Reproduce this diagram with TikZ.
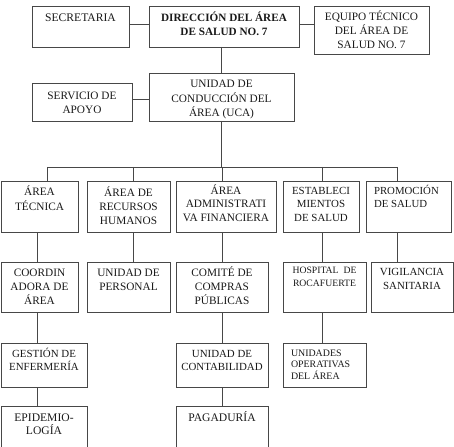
\documentclass[tikz,border=0pt]{standalone}
\usepackage{fontspec}
\setmainfont{Liberation Serif}
\usetikzlibrary{fit}
\tikzset{
  bx/.style={draw=black!72, line width=0.9pt, inner sep=0pt, outer sep=0pt, rectangle},
  tx/.style={inner sep=0pt, outer sep=0pt, align=center, anchor=base, text=black!90},
  txl/.style={inner sep=0pt, outer sep=0pt, align=left, anchor=base west, text=black!90},
  ln/.style={draw=black!72, line width=0.9pt},
  fs/.style={font=\fontsize{11.3}{#1}\selectfont},
  fs/.default=14
}
\begin{document}
\begin{tikzpicture}[x=1pt,y=-1pt]
\useasboundingbox (0,0) rectangle (454,446);
\clip (0,0) rectangle (454,446);
% boxes
\node[bx, fit={(32,6)(129,47)}] (sec) {};
\node[bx, fit={(149,6)(299,47)}] (dir) {};
\node[bx, fit={(314,6)(429,54)}] (eq) {};
\node[bx, fit={(32,83)(132,121)}] (serv) {};
\node[bx, fit={(149,73)(294,121)}] (uca) {};
\node[bx, fit={(1,181)(78,232)}] (tec) {};
\node[bx, fit={(87,181)(170,232)}] (rec) {};
\node[bx, fit={(176,181)(276,232)}] (adm) {};
\node[bx, fit={(283,181)(359,232)}] (est) {};
\node[bx, fit={(366,181)(451,232)}] (pro) {};
\node[bx, fit={(1,262)(78,312)}] (coo) {};
\node[bx, fit={(87,262)(170,312)}] (per) {};
\node[bx, fit={(176,262)(268,312)}] (com) {};
\node[bx, fit={(283,262)(366,312)}] (hos) {};
\node[bx, fit={(371,262)(453,312)}] (vig) {};
\node[bx, fit={(1,343)(87,387)}] (ges) {};
\node[bx, fit={(176,343)(268,387)}] (con) {};
\node[bx, fit={(283,343)(366,387)}] (uni) {};
\node[bx, fit={(1,406)(87,470)}] (epi) {};
\node[bx, fit={(176,406)(268,470)}] (pag) {};
% texts (anchor = baseline of last line)
\node[tx, font=\fontsize{11.6}{14}\selectfont] (sect) at (80.5,22) {SECRETARIA};
\node[tx, font=\fontsize{11.2}{14}\selectfont\bfseries] (dirt) at (224,36) {DIRECCIÓN DEL ÁREA\\DE SALUD NO. 7};
\node[tx, fs] (eqt) at (371.5,49) {EQUIPO TÉCNICO\\DEL ÁREA DE\\SALUD NO. 7};
\node[tx, fs] (servt) at (82,114) {SERVICIO DE\\APOYO};
\node[tx, fs=14.7] (ucat) at (221.5,117) {UNIDAD DE\\CONDUCCIÓN DEL\\ÁREA (UCA)};
\node[tx, fs] (tect) at (39.5,210) {ÁREA\\TÉCNICA};
\node[tx, fs] (rect) at (128.5,224) {ÁREA DE\\RECURSOS\\HUMANOS};
\node[tx, fs=13.5] (admt) at (226,221) {ÁREA\\ADMINISTRATI\\VA FINANCIERA};
\node[tx, font=\fontsize{10.9}{13.5}\selectfont] (estt) at (321,221) {ESTABLECI\\MIENTOS\\DE SALUD};
\node[txl, font=\fontsize{10.8}{12.5}\selectfont] (prot) at (374,207) {PROMOCIÓN\\DE SALUD};
\node[tx, fs] (coot) at (39.5,304) {COORDIN\\ADORA DE\\ÁREA};
\node[tx, fs] (pert) at (128.5,290) {UNIDAD DE\\PERSONAL};
\node[tx, fs] (comt) at (222,304) {COMITÉ DE\\COMPRAS\\PÚBLICAS};
\node[tx, font=\fontsize{9.7}{12.5}\selectfont] (host) at (324.5,286) {HOSPITAL\ \ DE\\ROCAFUERTE};
\node[tx, font=\fontsize{10.9}{13.5}\selectfont] (vigt) at (412,289) {VIGILANCIA\\SANITARIA};
\node[tx, font=\fontsize{10.9}{13}\selectfont] (gest) at (44,370) {GESTIÓN DE\\ENFERMERÍA};
\node[tx, font=\fontsize{10.9}{13}\selectfont] (cont) at (222,370) {UNIDAD DE\\CONTABILIDAD};
\node[txl, font=\fontsize{9.9}{11.5}\selectfont] (unit) at (291,379) {UNIDADES\\OPERATIVAS\\DEL ÁREA};
\node[tx, font=\fontsize{11.6}{13}\selectfont] (epit) at (44,434) {EPIDEMIO-\\LOGÍA};
\node[tx, font=\fontsize{11.6}{13}\selectfont] (pagt) at (222,421) {PAGADURÍA};
% coordinates
\coordinate (bus) at (0,167);
\coordinate (d1) at (47,167);
\coordinate (d2) at (133,167);
\coordinate (d3) at (222,167);
\coordinate (d4) at (322,167);
\coordinate (d5) at (397,167);
\coordinate (c1) at (37,0);
\coordinate (c2) at (133,0);
\coordinate (c3) at (222,0);
\coordinate (c4) at (322,0);
\coordinate (c5) at (397,0);
% connectors
\draw[ln] ([yshift=2.5pt]sec.east) -- ([yshift=2.5pt]sec.east -| dir.west);
\draw[ln] ([yshift=2.5pt]dir.east) -- ([yshift=2.5pt]dir.east -| eq.west);
\draw[ln] (uca.north |- dir.south) -- (uca.north);
\draw[ln] ([yshift=3pt]serv.east) -- ([yshift=3pt]serv.east -| uca.west);
\draw[ln] (uca.south) -- (uca.south |- bus);
\draw[ln] (d1) -- (d5);
\draw[ln] (d1) -- (d1 |- tec.north);
\draw[ln] (d2) -- (d2 |- rec.north);
\draw[ln] (d3) -- (d3 |- adm.north);
\draw[ln] (d4) -- (d4 |- est.north);
\draw[ln] (d5) -- (d5 |- pro.north);
\draw[ln] (c1 |- tec.south) -- (c1 |- coo.north);
\draw[ln] (c2 |- rec.south) -- (c2 |- per.north);
\draw[ln] (c3 |- adm.south) -- (c3 |- com.north);
\draw[ln] (c4 |- est.south) -- (c4 |- hos.north);
\draw[ln] (c5 |- pro.south) -- (c5 |- vig.north);
\draw[ln] (c1 |- coo.south) -- (c1 |- ges.north);
\draw[ln] (c1 |- ges.south) -- (c1 |- epi.north);
\draw[ln] (c3 |- com.south) -- (c3 |- con.north);
\draw[ln] (c3 |- con.south) -- (c3 |- pag.north);
\draw[ln] (c4 |- hos.south) -- (c4 |- uni.north);
\end{tikzpicture}
\end{document}
